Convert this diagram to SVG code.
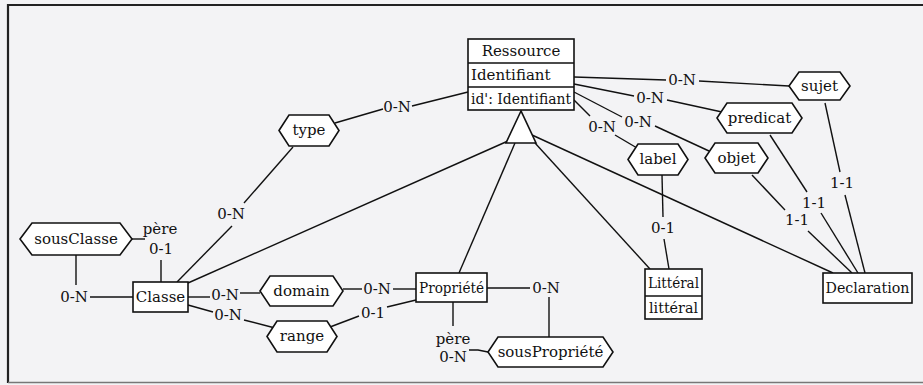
<svg xmlns="http://www.w3.org/2000/svg" width="923" height="385" viewBox="0 0 923 385">
<style>
text{font-family:"DejaVu Serif","Liberation Serif",serif;font-size:15px;fill:#111}
.c{text-anchor:middle;dominant-baseline:central}
.box{fill:#fff;stroke:#111;stroke-width:1.6}
.hex{fill:#fff;stroke:#111;stroke-width:1.6}
.ln{fill:none;stroke:#111;stroke-width:1.4}
.lb{text-anchor:middle;dominant-baseline:central;fill:#111}
</style>
<rect x="0" y="0" width="923" height="385" fill="#f3f3f5"/>
<path d="M8,383 V5 H923" fill="none" stroke="#222" stroke-width="2.2"/>
<path d="M8,382.5 H923" fill="none" stroke="#777" stroke-width="1.5"/>

<g id="connectors">
  <path class="ln" d="M508,141 L188,283"/>
  <path class="ln" d="M515,143 L459,273"/>
  <path class="ln" d="M535,143 L650,269"/>
  <path class="ln" d="M532,135 L833,273"/>
  <path class="ln" d="M335,123 L383,109"/>
  <path class="ln" d="M412,106 L468,92"/>
  <path class="ln" d="M293,147 L244,203"/>
  <path class="ln" d="M232,226 L177,282"/>
  <path class="ln" d="M132,239 H145"/>
  <path class="ln" d="M161,260 V282"/>
  <path class="ln" d="M76,255 V285"/>
  <path class="ln" d="M90,297 H133"/>
  <path class="ln" d="M188,297 H210"/>
  <path class="ln" d="M240,293 H260"/>
  <path class="ln" d="M343,289 H362"/>
  <path class="ln" d="M393,289 H416"/>
  <path class="ln" d="M188,305 L213,312"/>
  <path class="ln" d="M244,320 L275,328"/>
  <path class="ln" d="M330,327 L359,316"/>
  <path class="ln" d="M387,307 L416,300"/>
  <path class="ln" d="M487,288 H530"/>
  <path class="ln" d="M549,297 V337"/>
  <path class="ln" d="M453,302 V326"/>
  <path class="ln" d="M469,350 H478 L488,352"/>
  <path class="ln" d="M574,77 L666,80"/>
  <path class="ln" d="M699,81 L789,86"/>
  <path class="ln" d="M574,84 L634,96"/>
  <path class="ln" d="M667,100 L722,112"/>
  <path class="ln" d="M574,92 L622,117"/>
  <path class="ln" d="M655,126 L709,151"/>
  <path class="ln" d="M574,100 L590,116"/>
  <path class="ln" d="M615,135 L637,148"/>
  <path class="ln" d="M662,175 L663,217"/>
  <path class="ln" d="M664,239 L669,269"/>
  <path class="ln" d="M825,103 L840,172"/>
  <path class="ln" d="M845,195 L865,273"/>
  <path class="ln" d="M770,135 L807,192"/>
  <path class="ln" d="M821,213 L858,273"/>
  <path class="ln" d="M752,175 L785,210"/>
  <path class="ln" d="M808,231 L852,273"/>
</g>

<g id="labels">
  <text class="lb" x="397" y="107">0-N</text>
  <text class="lb" x="231" y="214">0-N</text>
  <text class="lb" x="160" y="229">père</text>
  <text class="lb" x="161" y="249">0-1</text>
  <text class="lb" x="74" y="297">0-N</text>
  <text class="lb" x="225" y="295">0-N</text>
  <text class="lb" x="228" y="315">0-N</text>
  <text class="lb" x="377" y="289">0-N</text>
  <text class="lb" x="373" y="313">0-1</text>
  <text class="lb" x="546" y="288">0-N</text>
  <text class="lb" x="453" y="339">père</text>
  <text class="lb" x="453" y="357">0-N</text>
  <text class="lb" x="682" y="80">0-N</text>
  <text class="lb" x="650" y="98">0-N</text>
  <text class="lb" x="638" y="122">0-N</text>
  <text class="lb" x="602" y="127">0-N</text>
  <text class="lb" x="663" y="228">0-1</text>
  <text class="lb" x="842" y="183">1-1</text>
  <text class="lb" x="814" y="203">1-1</text>
  <text class="lb" x="797" y="220">1-1</text>
</g>

<g id="isa">
  <polygon points="521,111 506,143 536,143" fill="#fff" stroke="#111" stroke-width="1.6"/>
</g>

<g id="Ressource">
  <rect class="box" x="468" y="39" width="106" height="71"/>
  <path class="ln" d="M468,63 H574 M468,87 H574"/>
  <text class="c" x="521" y="51">Ressource</text>
  <text x="471" y="80">Identifiant</text>
  <text x="471" y="104" textLength="100" lengthAdjust="spacingAndGlyphs">id': Identifiant</text>
</g>

<g id="Classe">
  <rect class="box" x="133" y="282" width="55" height="30"/>
  <text class="c" x="160.5" y="297">Classe</text>
</g>

<g id="Propriete">
  <rect class="box" x="416" y="273" width="71" height="29"/>
  <text class="c" x="451.5" y="287.5" textLength="65" lengthAdjust="spacingAndGlyphs">Propriété</text>
</g>

<g id="Litteral">
  <rect class="box" x="645" y="269" width="57" height="50"/>
  <path class="ln" d="M645,296 H702"/>
  <text class="c" x="673.5" y="283" textLength="51" lengthAdjust="spacingAndGlyphs">Littéral</text>
  <text class="c" x="673.5" y="308" textLength="49" lengthAdjust="spacingAndGlyphs">littéral</text>
</g>

<g id="Declaration">
  <rect class="box" x="823" y="273" width="89" height="30"/>
  <text class="c" x="867.5" y="288" textLength="84" lengthAdjust="spacingAndGlyphs">Declaration</text>
</g>

<g id="sousClasse">
  <polygon class="hex" points="20,239 32,223 120,223 132,239 120,255 32,255"/>
  <text class="c" x="76" y="239">sousClasse</text>
</g>

<g id="type">
  <polygon class="hex" points="279,130.5 289,115 329,115 339,130.5 329,146 289,146"/>
  <text class="c" x="309" y="130">type</text>
</g>

<g id="domain">
  <polygon class="hex" points="260,291 270,276 333,276 343,291 333,306 270,306"/>
  <text class="c" x="301.5" y="291">domain</text>
</g>

<g id="range">
  <polygon class="hex" points="267,336.5 277,321 327,321 337,336.5 327,352 277,352"/>
  <text class="c" x="302" y="336">range</text>
</g>

<g id="sousPropriete">
  <polygon class="hex" points="488,352 498,337 603,337 613,352 603,367 498,367"/>
  <text class="c" x="550.5" y="352">sousPropriété</text>
</g>

<g id="sujet">
  <polygon class="hex" points="789,86 799,72 840,72 850,86 840,100 799,100"/>
  <text class="c" x="819.5" y="86">sujet</text>
</g>

<g id="predicat">
  <polygon class="hex" points="717,118 727,103 792,103 802,118 792,133 727,133"/>
  <text class="c" x="759.5" y="118">predicat</text>
</g>

<g id="objet">
  <polygon class="hex" points="705,158 715,143 758,143 768,158 758,173 715,173"/>
  <text class="c" x="736.5" y="158">objet</text>
</g>

<g id="label">
  <polygon class="hex" points="628,159.5 638,144 678,144 688,159.5 678,175 638,175"/>
  <text class="c" x="658" y="159">label</text>
</g>
</svg>
